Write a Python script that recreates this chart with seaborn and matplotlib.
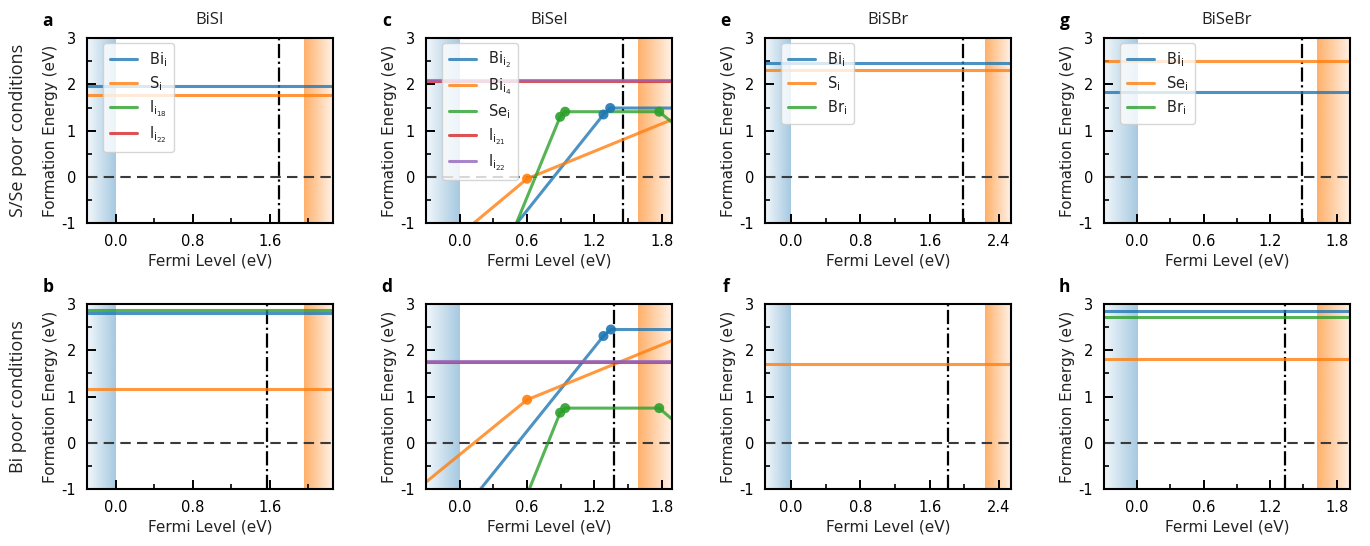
import matplotlib
matplotlib.use("Agg")
import matplotlib.pyplot as plt
from matplotlib.lines import Line2D
from matplotlib.ticker import MultipleLocator, FormatStrFormatter
import numpy as np
import pandas as pd
import seaborn as sns

# ---------------------------------------------------------------- data
compounds = ["BiSI", "BiSeI", "BiSBr", "BiSeBr"]
band_gaps = [1.96, 1.59, 2.24, 1.62]           # eV, start of the CB shading
fermi_top = [1.70, 1.456, 1.99, 1.49]          # equilibrium E_F, S/Se poor
fermi_bottom = [1.57, 1.37, 1.81, 1.33]        # equilibrium E_F, Bi poor
major_steps = [0.8, 0.6, 0.8, 0.6]
panel_letters_top = ["a", "c", "e", "g"]
panel_letters_bottom = ["b", "d", "f", "h"]
row_titles = ["S/Se poor conditions", "Bi poor conditions"]

# defect labels
bisi_labels = [r"Bi$_\mathrm{i}$", r"S$_\mathrm{i}$",
               r"I$_{\mathrm{i}_{18}}$", r"I$_{\mathrm{i}_{22}}$"]
bisei_labels = [r"Bi$_{\mathrm{i}_{2}}$", r"Bi$_{\mathrm{i}_{4}}$", r"Se$_\mathrm{i}$",
                r"I$_{\mathrm{i}_{21}}$", r"I$_{\mathrm{i}_{22}}$"]
bisbr_labels = [r"Bi$_\mathrm{i}$", r"S$_\mathrm{i}$", r"Br$_\mathrm{i}$"]
bisebr_labels = [r"Bi$_\mathrm{i}$", r"Se$_\mathrm{i}$", r"Br$_\mathrm{i}$"]

# flat (neutral) formation energies in eV; None = above the plotted window
bisi_s_poor = [1.96, 1.77, None, None]
bisi_bi_poor = [2.81, 1.17, 2.87, None]
bisbr_s_poor = [2.47, 2.31, None]
bisbr_bi_poor = [None, 1.71, None]
bisebr_se_poor = [1.83, 2.51, None]
bisebr_bi_poor = [2.84, 1.81, 2.73]

# BiSeI charge-state lines: vertices (E_F, formation energy)
bisei_se_poor_x = [[0.51, 1.28, 1.34, 1.89],
                   [0.126, 0.60, 1.89],
                   [0.505, 0.894, 0.939, 1.776, 1.89],
                   [-0.30, 1.89],
                   [-0.30, 1.89]]
bisei_se_poor_y = [[-1.00, 1.35, 1.49, 1.49],
                   [-1.00, -0.04, 1.24],
                   [-1.00, 1.30, 1.41, 1.41, 1.18],
                   [2.07, 2.07],
                   [2.10, 2.10]]
bisei_bi_poor_x = [[0.186, 1.28, 1.346, 1.89],
                   [-0.30, 0.60, 1.89],
                   [0.62, 0.894, 0.939, 1.776, 1.89],
                   [-0.30, 1.89],
                   [-0.30, 1.89]]
bisei_bi_poor_y = [[-1.00, 2.31, 2.45, 2.45],
                   [-0.85, 0.93, 2.21],
                   [-1.00, 0.65, 0.75, 0.75, 0.51],
                   [1.74, 1.74],
                   [1.77, 1.77]]

VBM_PAD = 0.30
YLIM = (-1, 3)
colors = sns.color_palette("tab10")

# ---------------------------------------------------------------- style
sns.set_theme(style="ticks")
plt.rcParams.update({
    "font.family": ["DejaVu Sans"],
    "axes.unicode_minus": False,
    "axes.linewidth": 1.5,
    "axes.edgecolor": "black",
    "xtick.direction": "in",
    "ytick.direction": "in",
    "xtick.major.size": 6.5,
    "ytick.major.size": 6.5,
    "xtick.minor.size": 3.5,
    "ytick.minor.size": 3.5,
    "xtick.major.width": 1.4,
    "ytick.major.width": 1.4,
    "xtick.minor.width": 1.2,
    "ytick.minor.width": 1.2,
    "xtick.major.pad": 8,
    "ytick.major.pad": 8,
    "xtick.labelsize": 10.5,
    "ytick.labelsize": 10.5,
    "axes.labelsize": 11,
    "xtick.color": "black",
    "ytick.color": "black",
    "text.color": "#222222",
    "axes.labelcolor": "#222222",
})
TITLE_FONT = ["Open Sans", "DejaVu Sans"]


def shade(ax, x0, x1, rgb, a_left, a_right):
    grad = np.zeros((1, 256, 4))
    grad[..., :3] = rgb
    grad[..., 3] = np.linspace(a_left, a_right, 256)
    ax.imshow(grad, extent=(x0, x1, YLIM[0], YLIM[1]), aspect="auto",
              interpolation="bicubic", zorder=0)


def draw_line(ax, xs, ys, color, mark=False):
    df = pd.DataFrame({"x": xs, "y": ys})
    sns.lineplot(data=df, x="x", y="y", ax=ax, color=color, lw=2.2,
                 alpha=0.8, sort=False, estimator=None, zorder=3)
    if mark and len(xs) > 2:
        sns.scatterplot(data=df.iloc[1:-1], x="x", y="y", ax=ax, color=color,
                        s=52, edgecolor="none", alpha=0.9, zorder=4)


fig, axes = plt.subplots(2, 4, figsize=(13.7, 5.46), dpi=100)
fig.subplots_adjust(left=0.0635, right=0.9854, top=0.930, bottom=0.1044,
                    wspace=0.378, hspace=0.438)

panel_data = {
    0: (bisi_labels, bisi_s_poor, bisi_bi_poor),
    2: (bisbr_labels, bisbr_s_poor, bisbr_bi_poor),
    3: (bisebr_labels, bisebr_se_poor, bisebr_bi_poor),
}

for col, name in enumerate(compounds):
    gap = band_gaps[col]
    xmin, xmax = -VBM_PAD, gap + VBM_PAD
    for row in range(2):
        ax = axes[row, col]
        shade(ax, xmin, 0.0, colors[0], 0.06, 0.40)
        shade(ax, gap, xmax, colors[1], 0.62, 0.10)
        ax.axhline(0, color="#3a3a3a", lw=1.5, ls=(0, (5, 3)), zorder=2)
        ef = fermi_top[col] if row == 0 else fermi_bottom[col]
        ax.axvline(ef, color="black", lw=1.6, ls="-.", zorder=2)

        if col == 1:
            labels = bisei_labels
            xs_all = bisei_se_poor_x if row == 0 else bisei_bi_poor_x
            ys_all = bisei_se_poor_y if row == 0 else bisei_bi_poor_y
            for i, (xs, ys) in enumerate(zip(xs_all, ys_all)):
                draw_line(ax, xs, ys, colors[i], mark=True)
        else:
            labels, top_vals, bot_vals = panel_data[col]
            vals = top_vals if row == 0 else bot_vals
            for i, v in enumerate(vals):
                if v is not None:
                    draw_line(ax, [xmin, xmax], [v, v], colors[i])

        ax.set_xlim(xmin, xmax)
        ax.set_ylim(*YLIM)
        ax.xaxis.set_major_locator(MultipleLocator(major_steps[col]))
        ax.xaxis.set_minor_locator(MultipleLocator(major_steps[col] / 2))
        ax.yaxis.set_major_locator(MultipleLocator(1))
        ax.yaxis.set_minor_locator(MultipleLocator(0.5))
        ax.xaxis.set_major_formatter(FormatStrFormatter("%.1f"))
        ax.yaxis.set_major_formatter(FormatStrFormatter("%d"))
        ax.set_xlabel("Fermi Level (eV)", labelpad=3)
        ax.set_ylabel("Formation Energy (eV)", labelpad=2)
        for sp in ax.spines.values():
            sp.set_visible(True)
            sp.set_zorder(6)

        letter = panel_letters_top[col] if row == 0 else panel_letters_bottom[col]
        ax.text(-0.16, 1.095, letter, transform=ax.transAxes, ha="center",
                va="center", fontsize=12.5, fontweight="bold",
                family=TITLE_FONT, color="black")
        if row == 0:
            ax.set_title(name, fontsize=12, family=TITLE_FONT, pad=10,
                         color="#222222")
            handles = [Line2D([], [], color=colors[i], lw=2.2, alpha=0.8)
                       for i in range(len(labels))]
            leg = ax.legend(handles, labels, loc="upper left",
                            bbox_to_anchor=(0.045, 1.0), borderaxespad=0.35,
                            fontsize=10.5, handlelength=1.9, handletextpad=0.8,
                            labelspacing=0.38, borderpad=0.45, framealpha=0.8)
            leg.set_zorder(5)

for row, title in enumerate(row_titles):
    pos = axes[row, 0].get_position()
    fig.text(0.013, (pos.y0 + pos.y1) / 2, title, rotation=90, ha="center",
             va="center", fontsize=13, family=TITLE_FONT, color="#222222")

fig.savefig("out.png", dpi=100)
